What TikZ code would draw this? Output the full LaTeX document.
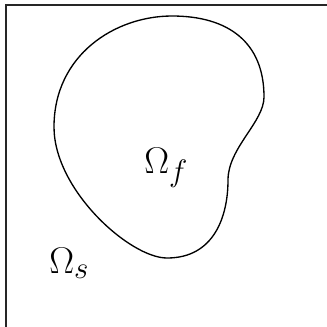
\documentclass[tikz,border=0pt]{standalone}
\begin{document}
\begin{tikzpicture}[x=0.75pt,y=-0.75pt,
  frame/.style={line width=1.6pt,draw=black!85},
  blob/.style={line width=1pt},
  lbl/.style={inner sep=0pt,anchor=base west,font=\Huge,scale=1.12,transform shape}]
\useasboundingbox (0,0) rectangle (327,326);
\clip (0,0) rectangle (327,326);
\draw[frame] (6,5) rectangle (360,360);
\coordinate (t) at (172,16);
\coordinate (r) at (264,97);
\coordinate (n) at (228,180);
\coordinate (b) at (167,258);
\coordinate (l) at (54,127);
\draw[blob] (t) .. controls (228,16) and (264,42) .. (r)
  .. controls (264,122) and (228,148) .. (n)
  .. controls (228,215) and (215,258) .. (b)
  .. controls (130,258) and (54,190) .. (l)
  .. controls (54,55) and (115,16) .. (t) -- cycle;
\node[lbl] (of) at (144,173) {$\Omega_f$};
\node[lbl] (os) at (49,273) {$\Omega_s$};
\end{tikzpicture}
\end{document}
